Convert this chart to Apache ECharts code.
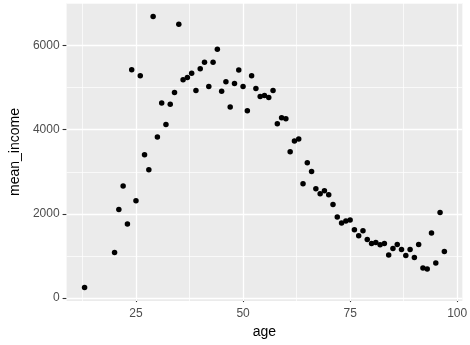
<!DOCTYPE html>
<html>
<head>
<meta charset="utf-8">
<script src="https://cdn.jsdelivr.net/npm/echarts@6/dist/echarts.min.js"></script>
<style>html,body{margin:0;padding:0;background:#fff}#c{width:470px;height:345px}</style>
</head>
<body>
<div id="c"></div>
<script>
const ages = [13,20,21,22,23,24,25,26,27,28,29,30,31,32,33,34,35,36,37,38,39,40,41,42,43,44,45,46,47,48,49,50,51,52,53,54,55,56,57,58,59,60,61,62,63,64,65,66,67,68,69,70,71,72,73,74,75,76,77,78,79,80,81,82,83,84,85,86,87,88,89,90,91,92,93,94,95,96,97];
const meanIncome = [252,1083,2105,2660,1757,5423,2311,5280,3404,3047,6689,3824,4632,4124,4608,4884,6508,5185,5240,5344,4931,5446,5606,5026,5606,5914,4912,5140,4537,5098,5416,5026,4449,5280,4979,4789,4813,4765,4931,4140,4283,4259,3475,3729,3777,2715,3214,3007,2596,2477,2549,2454,2224,1924,1781,1829,1853,1622,1480,1599,1392,1294,1321,1266,1297,1021,1178,1273,1154,1012,1154,964,1273,713,689,1544,831,2033,1107];
const xTicks = [25,50,75,100];
const xMinor = [12.5,37.5,62.5,87.5];
const yTicks = [0,2000,4000,6000];
const yMinor = [1000,3000,5000,7000];

const points = ages.map((a,i)=>[a, meanIncome[i]]);
const major = {color:'#ffffff', width:1.3, type:'solid'};
const minor = {color:'#ffffff', width:0.7, type:'solid'};
const gridLines = []
  .concat(xMinor.map(v=>({xAxis:v, lineStyle:minor})))
  .concat(yMinor.map(v=>({yAxis:v, lineStyle:minor})))
  .concat(xTicks.map(v=>({xAxis:v, lineStyle:major})))
  .concat(yTicks.map(v=>({yAxis:v, lineStyle:major})));

const chart = echarts.init(document.getElementById('c'), null, {renderer:'canvas'});
const font = 'Liberation Sans, Arial, sans-serif';
chart.setOption({
  animation:false,
  backgroundColor:'#ffffff',
  grid:{left:50, right:4, top:3, bottom:44, show:true, backgroundColor:'#EBEBEB', borderWidth:0},
  xAxis:{
    type:'value', min:8.8, max:101.2,
    name:'age', nameLocation:'middle', nameGap:23,
    nameTextStyle:{color:'#000', fontSize:14, fontFamily:font},
    axisLine:{show:false},
    axisTick:{show:true, length:4, lineStyle:{color:'#333', width:1.1}, customValues:xTicks},
    axisLabel:{color:'#4D4D4D', fontSize:12, fontFamily:font, margin:7, customValues:xTicks, formatter:v=>String(v)},
    splitLine:{show:false}
  },
  yAxis:{
    type:'value', min:-70, max:7011,
    name:'mean_income', nameLocation:'middle', nameGap:38,
    nameTextStyle:{color:'#000', fontSize:14, fontFamily:font},
    axisLine:{show:false},
    axisTick:{show:true, length:4, lineStyle:{color:'#333', width:1.1}, customValues:yTicks},
    axisLabel:{color:'#4D4D4D', fontSize:12, fontFamily:font, margin:7, customValues:yTicks, formatter:v=>String(v)},
    splitLine:{show:false}
  },
  series:[
    {type:'scatter', data:points, z:5, symbol:'circle', symbolSize:5.5,
     itemStyle:{color:'#000', opacity:1},
     markLine:{silent:true, z:1, symbol:['none','none'], label:{show:false}, animation:false, data:gridLines}}
  ]
});
</script>
</body>
</html>
